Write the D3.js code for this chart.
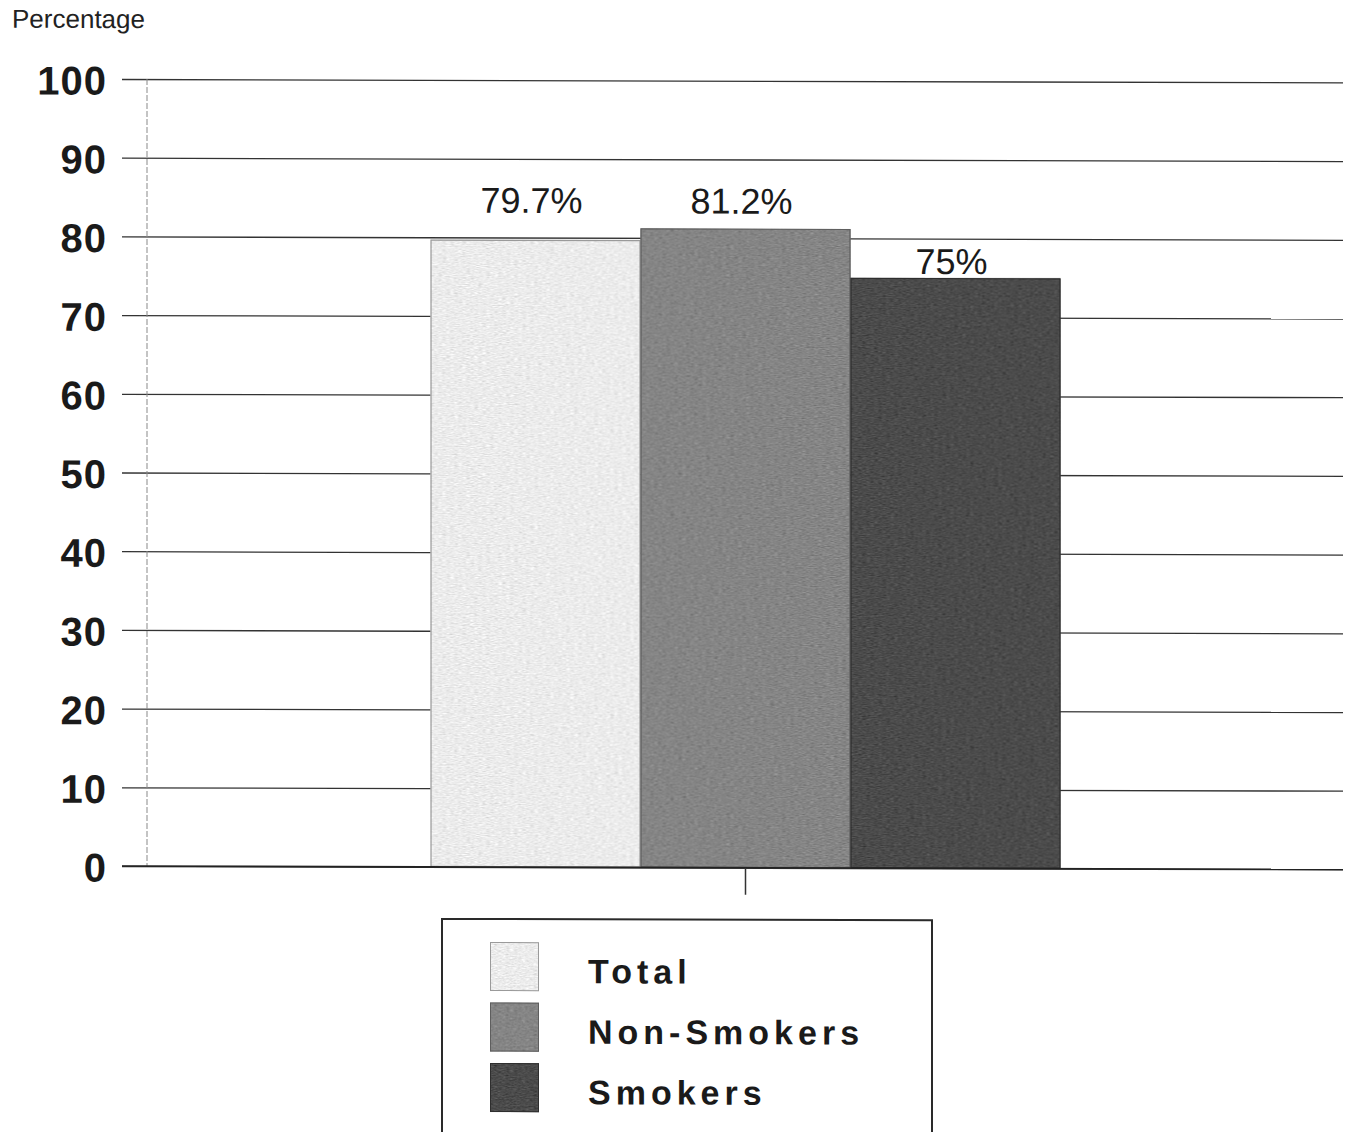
<!DOCTYPE html>
<html>
<head>
<meta charset="utf-8">
<script src="https://cdn.jsdelivr.net/npm/d3@7"></script>
<style>
  html, body { margin: 0; padding: 0; background: #fff; }
  svg { display: block; }
</style>
</head>
<body>
<svg id="chart" width="1354" height="1132"></svg>
<script>
// Data
const categories = [""];
const seriesNames = ["Total", "Non-Smokers", "Smokers"];
const seriesValues = [79.7, 81.2, 75];
const valueLabels = ["79.7%", "81.2%", "75%"];
const yTicks = [0, 10, 20, 30, 40, 50, 60, 70, 80, 90, 100];

// Appearance
const fills = ["#ececec", "#858585", "#4b4b4b"];
const strokes = ["#9a9a9a", "#5e5e5e", "#2e2e2e"];
const labelLift = [27, 15, 4];

const svg = d3.select("#chart");

// grain filter for the printed bar texture
const defs = svg.append("defs");
const grain = defs.append("filter").attr("id", "grain")
  .attr("x", 0).attr("y", 0).attr("width", 1).attr("height", 1)
  .attr("color-interpolation-filters", "sRGB");
grain.append("feTurbulence").attr("type", "fractalNoise")
  .attr("baseFrequency", "0.25 0.9").attr("numOctaves", 2).attr("seed", 7).attr("result", "noise");
grain.append("feColorMatrix").attr("in", "noise").attr("type", "matrix")
  .attr("values", "0.33 0.33 0.33 0 0  0.33 0.33 0.33 0 0  0.33 0.33 0.33 0 0  0 0 0 0 1")
  .attr("result", "gray");
grain.append("feComposite").attr("in", "SourceGraphic").attr("in2", "gray")
  .attr("operator", "arithmetic").attr("k1", 0).attr("k2", 1).attr("k3", 0.4).attr("k4", -0.2)
  .attr("result", "mix");
grain.append("feComposite").attr("in", "mix").attr("in2", "SourceGraphic").attr("operator", "in");

// horizontal lines run very slightly downhill to the right
const root = svg.append("g").attr("transform", "translate(0,-0.34) skewY(0.16)");

const plotLeft = 148, plotRight = 1343, plotTop = 79, plotBottom = 866;

const y = d3.scaleLinear().domain([0, 100]).range([plotBottom, plotTop]);
const x0 = d3.scaleBand().domain(categories).range([plotLeft, plotRight])
  .paddingInner(0).paddingOuter(0.4485);
const x1 = d3.scaleBand().domain(seriesNames).range([0, x0.bandwidth()]).padding(0);

// Axis title
root.append("text")
  .attr("x", 12).attr("y", 28)
  .attr("font-family", "Liberation Sans, Arial, sans-serif")
  .attr("font-size", 26).attr("fill", "#222")
  .text("Percentage");

// Gridlines and tick labels via d3 axis
const yAxis = d3.axisLeft(y).tickValues(yTicks)
  .tickSize(-(plotRight - 122)).tickPadding(16).tickFormat(d3.format("d"));
const gy = root.append("g").attr("transform", `translate(122,0)`).call(yAxis);
gy.select(".domain").remove();
gy.selectAll(".tick line").attr("stroke", "#333").attr("stroke-width", 1.3)
  .attr("x1", 0).attr("x2", plotRight - 122);
gy.selectAll(".tick text")
  .attr("font-family", "Liberation Sans, Arial, sans-serif")
  .attr("font-weight", "bold").attr("font-size", 40).attr("fill", "#1a1a1a")
  .attr("letter-spacing", 1)
  .attr("x", -15).attr("dy", "0.38em");

// vertical value axis line
root.append("line")
  .attr("x1", plotLeft - 1).attr("x2", plotLeft - 1)
  .attr("y1", y(100)).attr("y2", y(0))
  .attr("stroke", "#8a8a8a").attr("stroke-width", 1)
  .attr("stroke-dasharray", "6,2");

// Bars
const group = root.append("g").attr("transform", `translate(${x0(categories[0])},0)`);
group.selectAll("rect.bar").data(seriesValues).join("rect")
  .attr("class", "bar")
  .attr("x", (d, i) => x1(seriesNames[i]))
  .attr("y", d => y(d))
  .attr("width", x1.bandwidth())
  .attr("height", d => y(0) - y(d))
  .attr("fill", (d, i) => fills[i])
  .attr("filter", "url(#grain)");
group.selectAll("rect.edge").data(seriesValues).join("rect")
  .attr("class", "edge")
  .attr("x", (d, i) => x1(seriesNames[i]) + 0.5)
  .attr("y", d => y(d) + 0.5)
  .attr("width", x1.bandwidth() - 1)
  .attr("height", d => y(0) - y(d) - 1)
  .attr("fill", "none")
  .attr("stroke", (d, i) => strokes[i]).attr("stroke-width", 1.2);

// Value labels
group.selectAll("text.val").data(seriesValues).join("text")
  .attr("class", "val")
  .attr("x", (d, i) => x1(seriesNames[i]) + x1.bandwidth() / 2 - 4)
  .attr("y", (d, i) => y(d) - labelLift[i])
  .attr("text-anchor", "middle")
  .attr("font-family", "Liberation Sans, Arial, sans-serif")
  .attr("font-size", 36).attr("fill", "#1a1a1a")
  .text((d, i) => valueLabels[i]);

// Baseline and category tick
root.append("line")
  .attr("x1", 122).attr("x2", plotRight).attr("y1", y(0)).attr("y2", y(0))
  .attr("stroke", "#222").attr("stroke-width", 1.6);
const xAxis = d3.axisBottom(x0).tickSize(27).tickFormat("");
const gx = root.append("g").attr("transform", `translate(0,${y(0)})`).call(xAxis);
gx.select(".domain").remove();
gx.selectAll(".tick line").attr("stroke", "#333").attr("stroke-width", 1.5);

// Legend
const legend = root.append("g").attr("transform", "translate(442,918)");
legend.append("rect")
  .attr("x", 0).attr("y", 0).attr("width", 490).attr("height", 240)
  .attr("fill", "#fff").attr("stroke", "#2a2a2a").attr("stroke-width", 2);
const items = legend.selectAll("g.item").data(seriesNames).join("g")
  .attr("class", "item")
  .attr("transform", (d, i) => `translate(48,${23 + i * 60.5})`);
items.append("rect")
  .attr("width", 49).attr("height", 49)
  .attr("fill", (d, i) => fills[i])
  .attr("filter", "url(#grain)");
items.append("rect")
  .attr("x", 0.5).attr("y", 0.5).attr("width", 48).attr("height", 48)
  .attr("fill", "none").attr("stroke", (d, i) => strokes[i]).attr("stroke-width", 1);
items.append("text")
  .attr("x", 98).attr("y", 41)
  .attr("font-family", "Liberation Sans, Arial, sans-serif")
  .attr("font-weight", "bold").attr("font-size", 34)
  .attr("letter-spacing", 5).attr("fill", "#1a1a1a")
  .text(d => d);
</script>
</body>
</html>
